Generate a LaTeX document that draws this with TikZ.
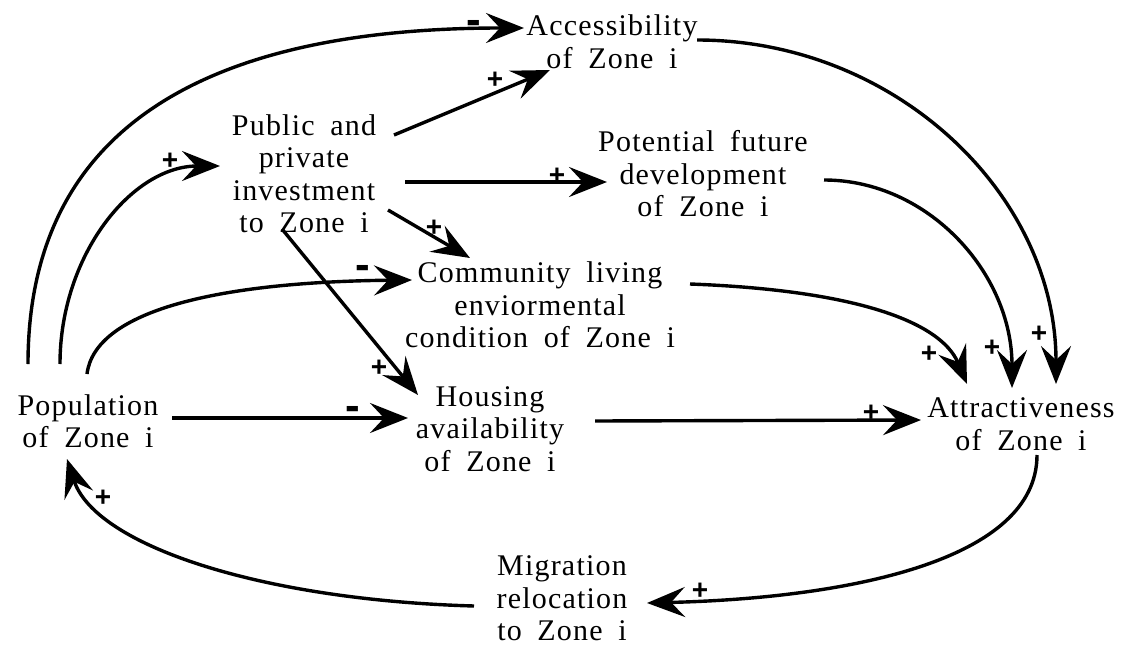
\documentclass[tikz,border=0pt]{standalone}
\usepackage{fontspec}
\setmainfont{Liberation Serif}[LetterSpace=4,WordSpace={1.8}]
\newfontfamily\signfont{Liberation Sans}
\usetikzlibrary{arrows.meta,calc}
\begin{document}
\begin{tikzpicture}[x=1pt,y=-1pt,
  concept/.style={align=center, inner sep=0pt, font=\fontsize{30}{32.5}\selectfont},
  link/.style={line width=3.4pt, -{Stealth[length=38pt,width=30pt,inset=14pt]}},
  plus/.style={font=\signfont\bfseries\fontsize{28}{28}\selectfont, inner sep=0pt},
  minus/.style={font=\signfont\bfseries\fontsize{44}{44}\selectfont, inner sep=0pt, yshift=-5pt},
]
\useasboundingbox (0,0) rectangle (1131,647);

\node[concept] (acc) at (612,41.5) {Accessibility\\of Zone i};
\node[concept] (pub) at (304,173.5) {Public and\\private\\investment\\to Zone i};
\node[concept] (pot) at (703,174) {Potential future\\development\\of Zone i};
\node[concept] (com) at (540,305) {Community living\\enviormental\\condition of Zone i};
\node[concept] (hou) at (490,429) {Housing\\availability\\of Zone i};
\node[concept] (pop) at (88,421) {Population\\of Zone i};
\node[concept] (att) at (1021,424) {Attractiveness\\of Zone i};
\node[concept] (mig) at (562,598.5) {Migration\\relocation\\to Zone i};

\draw[link] ([shift={(-60,-57)}]pop.center) .. controls +(0,-264) and +(-274,0) .. ([shift={(-88,-13.5)}]acc.center);
\draw[link] ([shift={(-28,-57)}]pop.center) .. controls +(0,-109) and +(-88,0) .. ([shift={(-84,-7.5)}]pub.center);
\draw[link] ([shift={(-1,-47)}]pop.center) .. controls +(8,-64) and +(-192,2) .. ([shift={(-128,-25)}]com.center);
\draw[link] ([shift={(90,-38.5)}]pub.center) -- ([shift={(-62,28.5)}]acc.center);
\draw[link] ([shift={(101,8.5)}]pub.center) -- ([shift={(-96,8)}]pot.center);
\draw[link] ([shift={(84,36.5)}]pub.center) -- ([shift={(-70,-47)}]com.center);
\draw[link] ([shift={(-22,55.5)}]pub.center) -- ([shift={(-72,-34)}]hou.center);
\draw[link] ([shift={(84,-3)}]pop.center) -- ([shift={(-82,-11)}]hou.center);
\draw[link] ([shift={(105,-8)}]hou.center) -- ([shift={(-100,-4)}]att.center);
\draw[link] ([shift={(150,-21)}]com.center) .. controls +(160,6) and +(-27,-64) .. ([shift={(-54,-40)}]att.center);
\draw[link] ([shift={(121,6)}]pot.center) .. controls +(104,0) and +(0,-115) .. ([shift={(-9,-36)}]att.center);
\draw[link] ([shift={(85,-1.5)}]acc.center) .. controls +(198,0) and +(0,-190) .. ([shift={(35,-40)}]att.center);
\draw[link] ([shift={(16,31)}]att.center) .. controls +(0,105) and +(203,-5) .. ([shift={(85,4.5)}]mig.center);
\draw[link] ([shift={(-88,7.5)}]mig.center) .. controls +(-214,-6) and +(28,86) .. ([shift={(-21,38)}]pop.center);

\node[minus] (s1) at (474,22) {-};
\node[plus] (s2) at (170,161) {+};
\node[minus] (s3) at (363,267) {-};
\node[plus] (s4) at (495,80) {+};
\node[plus] (s5) at (557,176) {+};
\node[plus] (s6) at (434,228) {+};
\node[plus] (s7) at (379,368) {+};
\node[minus] (s8) at (353,408) {-};
\node[plus] (s9) at (871,413) {+};
\node[plus] (s10) at (929,354) {+};
\node[plus] (s11) at (992,348) {+};
\node[plus] (s12) at (1039,334) {+};
\node[plus] (s13) at (700,591) {+};
\node[plus] (s14) at (103,498) {+};
\end{tikzpicture}
\end{document}
